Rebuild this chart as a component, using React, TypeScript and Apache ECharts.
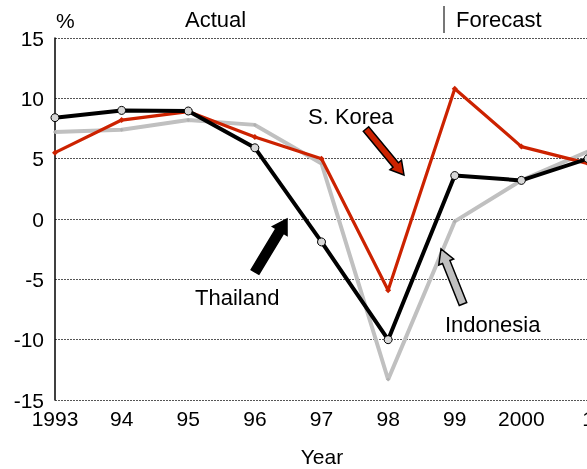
import React, { useEffect, useRef } from "react";
import * as echarts from "echarts";

const years = ["1993", "94", "95", "96", "97", "98", "99", "2000", "1"];
const thailand = [8.4, 9.0, 8.95, 5.9, -1.9, -10.0, 3.6, 3.2, 5.0];
const korea = [5.5, 8.2, 8.9, 6.8, 5.0, -5.9, 10.8, 6.0, 4.6];
const indonesia = [7.2, 7.4, 8.2, 7.8, 4.6, -13.3, -0.2, 3.2, 5.6];
const yTicks = { min: -15, max: 15, interval: 5 };

const FONT = "Liberation Sans, Arial, sans-serif";

function arrowPts(x1: number, y1: number, x2: number, y2: number, sw: number, hw: number, hl: number) {
  const dx = x2 - x1, dy = y2 - y1;
  const L = Math.hypot(dx, dy);
  const ux = dx / L, uy = dy / L;
  const px = -uy, py = ux;
  const bx = x2 - ux * hl, by = y2 - uy * hl;
  return [
    [x1 + (px * sw) / 2, y1 + (py * sw) / 2],
    [bx + (px * sw) / 2, by + (py * sw) / 2],
    [bx + (px * hw) / 2, by + (py * hw) / 2],
    [x2, y2],
    [bx - (px * hw) / 2, by - (py * hw) / 2],
    [bx - (px * sw) / 2, by - (py * sw) / 2],
    [x1 - (px * sw) / 2, y1 - (py * sw) / 2],
  ];
}

export default function App() {
  const ref = useRef<HTMLDivElement>(null);
  useEffect(() => {
    if (!ref.current) return;
    const chart = echarts.init(ref.current, null, { renderer: "svg" });
    const txt = (x: number, y: number, text: string, size = 22, align = "left") => ({
      type: "text",
      x,
      y,
      z: 100,
      style: { text, fontSize: size, fontFamily: FONT, fill: "#000", textAlign: align, textVerticalAlign: "middle" },
    });
    chart.setOption({
      animation: false,
      grid: { left: 55, right: -1, top: 38, bottom: 69, outerBoundsMode: "none", containLabel: false },
      xAxis: {
        type: "category",
        data: years,
        boundaryGap: false,
        axisLine: { show: false },
        axisTick: { show: false },
        axisLabel: { fontSize: 21, fontFamily: FONT, color: "#000", margin: 8, interval: 0 },
        splitLine: { show: false },
      },
      yAxis: {
        type: "value",
        min: yTicks.min,
        max: yTicks.max,
        interval: yTicks.interval,
        axisLine: { show: true, lineStyle: { color: "#000", width: 1.5 } },
        axisTick: { show: false },
        axisLabel: { fontSize: 21, fontFamily: FONT, color: "#000", margin: 11 },
        splitLine: { show: true, lineStyle: { color: "#555", type: [2, 1], width: 1.2 } },
      },
      series: [
        {
          name: "Indonesia",
          type: "line",
          data: indonesia,
          z: 2,
          lineStyle: { color: "#c0c0c0", width: 4 },
          itemStyle: { color: "#b0b0b0" },
          symbol: "diamond",
          symbolSize: 4,
        },
        {
          name: "S. Korea",
          type: "line",
          data: korea,
          z: 3,
          lineStyle: { color: "#cc2200", width: 3.2 },
          itemStyle: { color: "#cc2200" },
          symbol: "diamond",
          symbolSize: 6,
        },
        {
          name: "Thailand",
          type: "line",
          data: thailand,
          z: 4,
          lineStyle: { color: "#000", width: 4 },
          itemStyle: { color: "#d8d8d8", borderColor: "#000", borderWidth: 1 },
          symbol: "circle",
          symbolSize: 8,
        },
      ],
      graphic: [
        txt(56, 20, "%", 21),
        txt(185, 19, "Actual", 22),
        txt(456, 19, "Forecast", 22),
        { type: "line", shape: { x1: 444, y1: 6, x2: 444, y2: 33 }, style: { stroke: "#777", lineWidth: 2 } },
        txt(308, 116, "S. Korea", 22),
        txt(195, 297, "Thailand", 22),
        txt(445, 324, "Indonesia", 22),
        txt(322, 456, "Year", 21, "center"),
        {
          type: "polygon",
          z: 100,
          shape: { points: arrowPts(366, 129, 404, 175, 7, 15, 13) },
          style: { fill: "#cc2200", stroke: "#000", lineWidth: 1.5 },
        },
        {
          type: "polygon",
          z: 100,
          shape: { points: arrowPts(255, 272, 287, 219, 9, 17, 14) },
          style: { fill: "#000", stroke: "#000", lineWidth: 1.5 },
        },
        {
          type: "polygon",
          z: 100,
          shape: { points: arrowPts(463, 304, 441, 249, 8, 16, 14) },
          style: { fill: "#c0c0c0", stroke: "#000", lineWidth: 1.5 },
        },
      ],
    });
    return () => chart.dispose();
  }, []);
  return <div ref={ref} style={{ position: "fixed", left: 0, top: 0, width: 587, height: 469 }} />;
}
